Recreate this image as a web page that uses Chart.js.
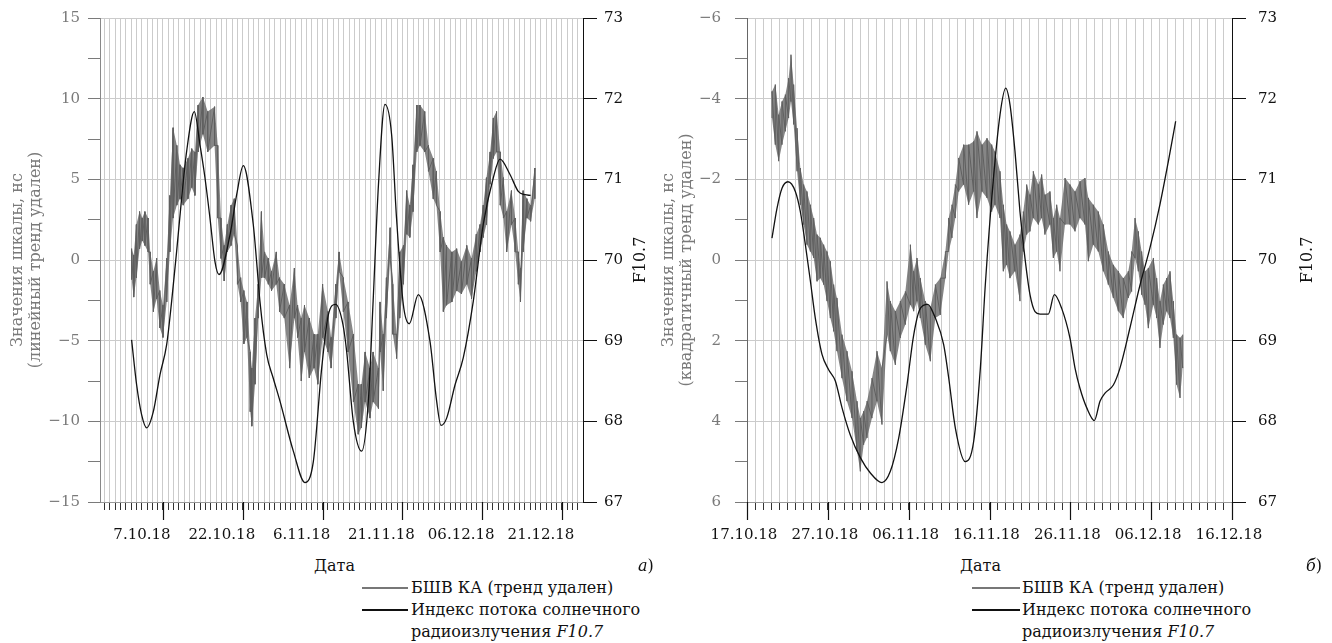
<!DOCTYPE html>
<html lang="ru">
<head>
<meta charset="utf-8">
<title>БШВ КА и индекс F10.7</title>
<script src="https://cdn.jsdelivr.net/npm/chart.js@4.4.1/dist/chart.umd.min.js"></script>
<style>
  body { margin: 0; background: #fff; width: 1332px; height: 643px; position: relative; overflow: hidden; font-family: "DejaVu Serif", serif; }
  canvas { position: absolute; top: 0; }
  #chartA { left: 0; }
  #chartB { left: 660px; }
  .txt { position: absolute; font-size: 16px; line-height: 18px; color: #111; white-space: nowrap; transform: translateY(-50%); }
  .rot { position: absolute; font-size: 16px; line-height: 18px; color: #111; white-space: nowrap; transform: translate(-50%, -50%) rotate(-90deg); }
  .swatch { position: absolute; height: 0; border-top: 2px solid #111; }
</style>
</head>
<body>
<canvas id="chartA" width="660" height="545"></canvas>
<canvas id="chartB" width="672" height="545"></canvas>

<div class="rot" style="left:640px; top:260px;">F10.7</div>
<div class="rot" style="left:1307px; top:260px;">F10.7</div>

<div class="txt" style="left:314px; top:566px;">Дата</div>
<div class="txt" style="left:638px; top:566px;"><i>а</i>)</div>
<div class="txt" style="left:960px; top:566px;">Дата</div>
<div class="txt" style="left:1306px; top:566px;"><i>б</i>)</div>

<div class="swatch" style="left:362px; width:46px; top:587px; border-color:#777;"></div>
<div class="swatch" style="left:362px; width:46px; top:609px;"></div>
<div class="txt" style="left:411px; top:588px;">БШВ КА (тренд удален)</div>
<div class="txt" style="left:411px; top:610px;">Индекс потока солнечного</div>
<div class="txt" style="left:411px; top:632px;">радиоизлучения <i>F10.7</i></div>

<div class="swatch" style="left:972px; width:48px; top:587px; border-color:#777;"></div>
<div class="swatch" style="left:972px; width:48px; top:609px;"></div>
<div class="txt" style="left:1022px; top:588px;">БШВ КА (тренд удален)</div>
<div class="txt" style="left:1022px; top:610px;">Индекс потока солнечного</div>
<div class="txt" style="left:1022px; top:632px;">радиоизлучения <i>F10.7</i></div>

<script>
// Ось X в сутках: 0 = 7.10.18 для рис. а), 0 = 17.10.18 для рис. б)
const aTickDays = [0, 15, 30, 45, 60, 75];
const aTickLabels = ['7.10.18', '22.10.18', '6.11.18', '21.11.18', '06.12.18', '21.12.18'];
const bTickDays = [0, 10, 20, 30, 40, 50, 60];
const bTickLabels = ['17.10.18', '27.10.18', '06.11.18', '16.11.18', '26.11.18', '06.12.18', '16.12.18'];

// Рис. а) БШВ КА (линейный тренд удален): огибающая шума, нс
const aBswDays = [-5.9, -5.5, -5.0, -4.4, -3.9, -3.4, -2.8, -2.4, -1.8, -1.2, -0.6, 0.0, 0.7, 1.3, 1.9, 2.6, 3.2, 3.8, 4.7, 5.4,
  6.0, 6.6, 7.5, 8.4, 9.7, 10.3, 10.9, 11.5, 12.1, 12.8, 13.4, 14.0, 14.6, 15.2, 15.8, 16.4, 16.7, 17.3, 17.9, 18.5,
  19.1, 19.8, 20.4, 21.3, 21.9, 22.8, 23.8, 24.7, 25.3, 26.0, 26.6, 27.5, 28.4, 29.1, 30.0, 31.0, 31.6, 32.5, 33.1, 33.9,
  34.8, 35.8, 36.7, 37.3, 38.0, 38.9, 39.5, 40.5, 40.8, 41.4, 42.0, 42.7, 43.2, 43.9, 44.5, 45.2, 45.8, 46.4, 47.0, 47.7,
  48.3, 49.2, 49.9, 50.8, 51.4, 52.1, 52.7, 53.3, 54.3, 55.2, 56.1, 57.1, 58.0, 58.9, 59.6, 60.2, 60.8, 61.5, 62.1, 62.7,
  63.4, 64.0, 64.6, 65.5, 66.2, 66.8, 67.2, 67.7, 68.4, 69.1, 69.9];
const aBswLow = [-1.2, -2.3, -1.1, 0.7, 1.2, 0.9, 0.5, -1.5, -3.2, -2.4, -4.2, -4.8, -2.6, 0.5, 2.6, 3.4, 3.8, 3.4, 3.8, 4.5,
  4.0, 6.7, 7.8, 6.7, 7.1, 2.6, 0.1, -1.3, 0.5, 0.9, 1.6, -1.5, -2.6, -5.2, -4.8, -9.4, -10.3, -7.7, -3.6, -1.1,
  -1.1, -1.5, -1.9, -1.5, -3.2, -3.6, -6.7, -3.6, -4.8, -7.5, -5.7, -7.3, -6.7, -7.7, -4.8, -5.7, -6.7, -3.6, -0.7, -3.2,
  -5.7, -8.8, -10.8, -10.4, -8.8, -9.8, -8.8, -9.2, -5.7, -8.1, -3.6, 0.1, -4.6, -6.1, -3.6, -1.5, 1.6, 1.4, 3.0, 6.7,
  7.1, 6.7, 5.5, 3.8, 3.4, 0.5, -3.2, -2.8, -2.6, -1.9, -2.1, -1.5, -2.4, -0.7, 0.5, 1.4, 2.2, 4.7, 6.3, 6.7,
  3.4, 2.6, 0.5, 2.2, 0.5, -1.5, -2.6, 0.5, 2.6, 2.4, 3.8];
const aBswHigh = [0.7, 0.3, 2.2, 3.0, 2.6, 3.0, 2.6, 0.5, -0.7, 0.1, -1.9, -2.8, 0.1, 4.0, 8.2, 7.1, 5.9, 5.7, 6.3, 6.9,
  6.7, 9.6, 10.1, 9.2, 9.5, 7.1, 2.6, 0.9, 2.2, 3.4, 3.8, 0.9, -1.1, -1.9, -2.6, -5.7, -6.7, -3.6, -1.5, 3.0,
  0.5, 0.1, -0.7, 0.5, -1.1, -1.5, -2.8, -0.5, -2.8, -3.6, -2.8, -3.6, -4.6, -4.6, -1.5, -3.2, -4.8, -1.5, 0.5, -1.1,
  -2.6, -4.6, -7.7, -7.7, -5.7, -6.7, -5.7, -6.7, -2.6, -4.6, -1.1, 2.0, -1.5, -4.6, 0.5, 0.9, 4.3, 3.4, 5.9, 9.6,
  9.6, 9.2, 7.1, 6.3, 5.5, 3.0, 1.4, 0.9, 0.5, 0.7, -0.1, 0.9, 0.1, 1.6, 2.2, 3.4, 5.1, 6.7, 8.8, 9.2,
  6.7, 5.1, 3.0, 4.3, 2.6, 0.5, -0.5, 4.3, 3.8, 3.4, 5.7];

// Рис. а) индекс F10.7
const aFluxDays = [-5.9, -4.95, -4.01, -3.07, -1.82, -0.56, 0.69, 1.63, 2.57, 3.51, 4.45, 5.89, 6.95, 7.89, 8.83, 9.77, 10.53,
  12.59, 13.85, 15.1, 16.97, 17.6, 18.22, 19.49, 20.7, 21.99, 24.5, 26.69, 28.26, 29.83, 31.08, 32.46, 33.83, 34.52,
  35.77, 37.35, 38.6, 39.5, 40.5, 41.73, 42.98, 43.9, 45.17, 46.3, 47.99, 50.19, 51.44, 52.26, 53.32, 54.89, 56.45,
  58.33, 60.2, 62.09, 63.35, 65.23, 66.79, 68.05, 69.11];
const aFluxValues = [69.01, 68.45, 68.08, 67.92, 68.12, 68.58, 68.95, 69.49, 70.11, 70.77, 71.35, 71.84, 71.43, 71.02, 70.52, 69.98, 69.82,
  70.31, 70.81, 71.17, 70.44, 69.98, 69.49, 68.83, 68.54, 68.25, 67.63, 67.24, 67.5, 68.66, 69.32, 69.45, 69.2, 68.87,
  68.0, 67.63, 68.25, 69.49, 70.93, 71.93, 71.55, 70.52, 69.45, 69.21, 69.57, 68.99, 68.25, 67.95, 68.04, 68.45, 68.79,
  69.49, 70.44, 71.02, 71.25, 71.06, 70.85, 70.81, 70.8];

// Рис. б) БШВ КА (квадратичный тренд удален): огибающая шума, нс
const bBswDays = [3.09, 3.5, 3.92, 4.33, 4.74, 5.15, 5.44, 5.77, 6.19, 6.6, 7.01, 7.42, 7.84, 8.25, 8.66, 9.07, 9.48, 9.9, 10.31, 10.72,
  11.13, 11.75, 12.37, 12.99, 13.61, 14.02, 14.43, 14.85, 15.46, 16.08, 16.7, 17.32, 17.73, 18.35, 18.97, 19.59, 20.21, 20.62, 21.03, 21.44,
  22.06, 22.68, 23.3, 23.92, 24.54, 24.95, 25.36, 25.77, 26.19, 26.8, 27.42, 28.04, 28.45, 29.07, 29.69, 30.27, 30.68, 31.3, 31.71, 32.12,
  32.53, 33.15, 33.77, 34.18, 34.6, 35.01, 35.42, 36.04, 36.45, 36.86, 37.48, 37.9, 38.31, 38.72, 39.34, 39.96, 40.58, 41.19, 41.81, 42.23,
  42.84, 43.46, 44.08, 44.7, 45.32, 45.94, 46.55, 47.17, 47.59, 48.0, 48.41, 48.82, 49.24, 49.65, 50.27, 50.68, 51.09, 51.5, 51.92, 52.33,
  52.74, 53.15, 53.57, 53.9];
const bBswLow = [-4.18, -4.35, -3.6, -3.93, -4.1, -4.51, -5.09, -4.35, -3.27, -2.28, -1.87, -1.7, -1.37, -1.04, -0.63, -0.55, -0.38, -0.21, 0.03, 0.61,
  0.94, 1.85, 2.26, 2.76, 3.5, 3.92, 3.75, 3.5, 2.93, 2.26, 2.68, 0.53, 1.02, 1.27, 1.02, 0.78, -0.38, 0.28, -0.05, 0.45,
  1.02, 1.19, 0.61, 0.45, -0.21, -1.04, -1.37, -1.87, -2.53, -2.86, -2.86, -2.94, -3.19, -2.86, -3.02, -2.86, -2.69, -2.2, -1.37, -0.88,
  -0.71, -0.38, -0.63, -1.2, -1.87, -1.62, -2.2, -1.87, -2.12, -1.62, -1.7, -1.04, -1.37, -1.04, -2.03, -1.87, -1.7, -1.95, -2.03, -1.54,
  -1.37, -1.2, -0.88, -0.21, 0.12, 0.28, 0.45, 0.28, -0.21, -1.04, -0.71, -0.21, 0.28, 0.2, -0.05, 0.45, 1.02, 0.61, 0.45, 0.28,
  1.02, 1.85, 1.93, 1.85];
const bBswHigh = [-3.52, -2.86, -2.45, -2.86, -3.19, -3.52, -3.93, -3.36, -2.2, -1.37, -0.88, -0.38, -0.21, -0.05, 0.53, 0.45, 0.61, 1.02, 1.44, 1.77,
  2.26, 2.93, 3.5, 3.92, 4.74, 5.24, 4.58, 4.41, 3.92, 3.5, 4.08, 1.85, 2.26, 2.6, 1.93, 1.6, 1.11, 1.27, 1.02, 1.44,
  2.1, 2.51, 1.44, 1.36, 0.45, -0.21, -0.55, -1.04, -1.7, -1.87, -1.37, -1.7, -1.04, -1.7, -1.54, -1.2, -1.37, -1.04, 0.28, 0.12,
  0.45, 0.28, 1.02, -0.21, -0.63, -0.71, -1.04, -0.88, -1.04, -0.63, -0.88, -0.05, -0.21, 0.28, -0.88, -0.88, -0.71, -1.04, -0.88, 0.03,
  -0.38, -0.21, 0.28, 0.61, 0.94, 1.27, 1.44, 0.94, 0.78, -0.05, 0.28, 0.86, 1.11, 1.69, 1.11, 1.44, 2.18, 1.6, 1.27, 1.44,
  1.93, 3.09, 3.42, 2.68];

// Рис. б) индекс F10.7
const bFluxDays = [3.09, 3.71, 4.33, 5.07, 5.98, 6.6, 7.22, 7.84, 8.45, 9.28, 10.1, 10.93, 11.75, 12.78, 14.02, 15.26, 16.7, 17.73,
  18.76, 19.79, 20.62, 21.44, 22.35, 23.3, 24.33, 24.95, 25.77, 27.01, 28.04, 28.87, 29.48, 30.47, 31.3, 32.0, 32.53, 33.15,
  33.77, 34.39, 35.01, 35.63, 36.25, 37.28, 38.02, 38.93, 39.96, 40.58, 41.19, 42.02, 42.97, 43.67, 44.29, 45.32, 46.14,
  47.38, 48.62, 49.85, 51.09, 52.12, 53.03];
const bFluxValues = [70.27, 70.64, 70.89, 70.97, 70.85, 70.6, 70.19, 69.74, 69.28, 68.83, 68.64, 68.5, 68.17, 67.83, 67.55, 67.36, 67.24, 67.38,
  67.79, 68.45, 69.07, 69.4, 69.45, 69.28, 68.95, 68.54, 67.92, 67.5, 67.75, 68.66, 69.69, 70.99, 71.8, 72.13, 71.93, 71.35,
  70.6, 70.02, 69.57, 69.36, 69.33, 69.33, 69.57, 69.4, 69.03, 68.66, 68.41, 68.17, 68.01, 68.25, 68.35, 68.45, 68.66,
  69.16, 69.69, 70.15, 70.69, 71.22, 71.72];

const GRAY = '#5f5f5f';
const BAND = 'rgba(100,100,100,0.78)';
const AXIS_GRAY = '#7a7a7a';
const GRID = '#cbcbcb';
const FONT = 'DejaVu Serif';

// Шумовой ряд: в каждой точке вертикальный штрих от верхней границы к нижней
function zigzag(days, low, high) {
  const pts = [];
  days.forEach((d, i) => {
    pts.push({ x: d, y: high[i] });
    pts.push({ x: d, y: low[i] });
  });
  return pts;
}

function curve(days, values) {
  return days.map((d, i) => ({ x: d, y: values[i] }));
}

function minusSign(v) {
  return v < 0 ? '\u2212' + Math.abs(v) : String(v);
}

// Длинные засечки под подписанными датами
const majorTicksPlugin = {
  id: 'majorTicks',
  afterDraw(chart, args, opts) {
    const scale = chart.scales.x;
    const ctx = chart.ctx;
    const bottom = chart.chartArea.bottom;
    ctx.save();
    ctx.strokeStyle = '#111';
    ctx.lineWidth = 1.2;
    opts.days.forEach(d => {
      const px = Math.round(scale.getPixelForValue(d)) + 0.5;
      ctx.beginPath();
      ctx.moveTo(px, bottom);
      ctx.lineTo(px, bottom + opts.length);
      ctx.stroke();
    });
    ctx.restore();
  }
};

// Не даём отступу подписей раздвигать область графика по вертикали
function fixVerticalPadding(scale, width) {
  scale.width = width;
  scale.paddingTop = 9;
  scale.paddingBottom = 9;
}

function makeChart(id, cfg) {
  return new Chart(document.getElementById(id), {
    type: 'line',
    data: {
      datasets: [
        {
          label: 'Индекс потока солнечного радиоизлучения F10.7',
          data: curve(cfg.fluxDays, cfg.fluxValues),
          yAxisID: 'y1',
          borderColor: '#111',
          borderWidth: 1.3,
          pointRadius: 0,
          cubicInterpolationMode: 'monotone',
          order: 0
        },
        {
          label: 'БШВ КА (тренд удален)',
          data: zigzag(cfg.bswDays, cfg.bswLow, cfg.bswHigh),
          yAxisID: 'y',
          borderColor: GRAY,
          borderWidth: 1,
          pointRadius: 0,
          tension: 0,
          order: 1
        },
        {
          label: 'верх',
          data: curve(cfg.bswDays, cfg.bswHigh),
          yAxisID: 'y',
          borderWidth: 0,
          pointRadius: 0,
          fill: false,
          order: 2
        },
        {
          label: 'низ',
          data: curve(cfg.bswDays, cfg.bswLow),
          yAxisID: 'y',
          borderWidth: 0,
          pointRadius: 0,
          backgroundColor: BAND,
          fill: '-1',
          order: 3
        }
      ]
    },
    options: {
      responsive: false,
      animation: false,
      events: [],
      layout: { padding: { top: 18, left: 0, right: 0, bottom: 0 } },
      plugins: {
        legend: { display: false },
        tooltip: { enabled: false },
        filler: { propagate: false },
        majorTicks: { days: cfg.tickDays, length: 18 }
      },
      scales: {
        x: {
          type: 'linear',
          min: cfg.xMin,
          max: cfg.xMax,
          afterBuildTicks: scale => {
            const ticks = [];
            for (let d = Math.ceil(scale.min); d <= Math.floor(scale.max); d++) ticks.push({ value: d });
            scale.ticks = ticks;
          },
          afterFit: scale => { scale.height = 43; },
          grid: { color: GRID, lineWidth: 1, tickColor: '#333', tickLength: 8 },
          border: { color: '#999' },
          ticks: {
            autoSkip: false,
            maxRotation: 0,
            padding: 16,
            labelOffset: cfg.labelOffset,
            color: '#111',
            font: { family: FONT, size: 15 },
            callback: value => {
              const i = cfg.tickDays.indexOf(value);
              return i >= 0 ? cfg.tickLabels[i] : '';
            }
          }
        },
        y: {
          position: 'left',
          min: cfg.yMin,
          max: cfg.yMax,
          reverse: cfg.reverse,
          afterFit: scale => fixVerticalPadding(scale, cfg.leftWidth),
          grid: {
            color: c => (c.tick && c.tick.value % cfg.yMajor === 0 ? GRID : 'rgba(0,0,0,0)'),
            tickColor: AXIS_GRAY,
            tickLength: 12
          },
          border: { color: cfg.leftBorder },
          ticks: {
            stepSize: cfg.yMinor,
            padding: cfg.leftPad,
            color: AXIS_GRAY,
            font: { family: FONT, size: 15 },
            callback: v => (v % cfg.yMajor === 0 ? minusSign(v) : '')
          },
          title: {
            display: true,
            text: cfg.yTitle,
            color: AXIS_GRAY,
            font: { family: FONT, size: 16, lineHeight: 1.1 },
            padding: { top: cfg.titlePad, bottom: 0 }
          }
        },
        y1: {
          position: 'right',
          min: 67,
          max: 73,
          afterFit: scale => fixVerticalPadding(scale, cfg.rightWidth),
          grid: { drawOnChartArea: false, tickColor: '#111', tickLength: 14 },
          border: { color: '#111' },
          ticks: {
            stepSize: 1,
            padding: cfg.rightPad,
            color: '#111',
            font: { family: FONT, size: 15 }
          }
        }
      }
    },
    plugins: [majorTicksPlugin]
  });
}

makeChart('chartA', {
  fluxDays: aFluxDays, fluxValues: aFluxValues,
  bswDays: aBswDays, bswLow: aBswLow, bswHigh: aBswHigh,
  tickDays: aTickDays, tickLabels: aTickLabels,
  xMin: -11.84, xMax: 78.95, labelOffset: -21,
  yMin: -15, yMax: 15, yMinor: 2.5, yMajor: 5, reverse: false,
  yTitle: ['Значения шкалы, нс', '(линейный тренд удален)'],
  leftWidth: 100, rightWidth: 77, leftPad: 8, rightPad: 7, titlePad: 9,
  leftBorder: '#888'
});

makeChart('chartB', {
  fluxDays: bFluxDays, fluxValues: bFluxValues,
  bswDays: bBswDays, bswLow: bBswLow, bswHigh: bBswHigh,
  tickDays: bTickDays, tickLabels: bTickLabels,
  xMin: 0, xMax: 60, labelOffset: -3,
  yMin: -6, yMax: 6, yMinor: 1, yMajor: 2, reverse: true,
  yTitle: ['Значения шкалы, нс', '(квадратичный тренд удален)'],
  leftWidth: 87, rightWidth: 100, leftPad: 14, rightPad: 12, titlePad: 0,
  leftBorder: '#666'
});
</script>
</body>
</html>
